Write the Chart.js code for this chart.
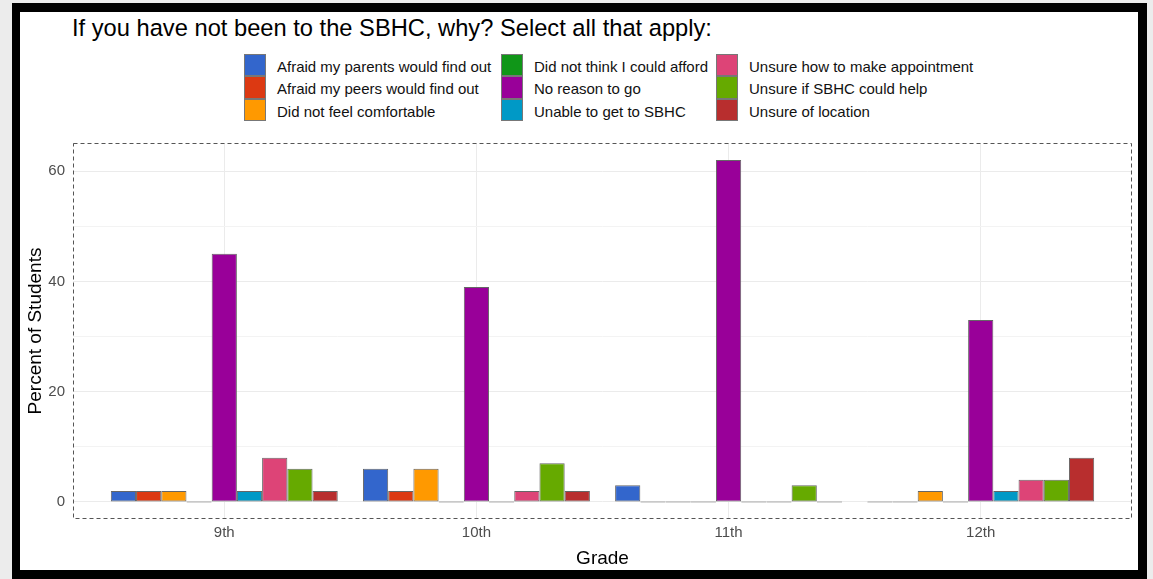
<!DOCTYPE html>
<html>
<head>
<meta charset="utf-8">
<script src="https://cdn.jsdelivr.net/npm/chart.js@4.4.0/dist/chart.umd.min.js"></script>
<style>
  html, body { margin:0; padding:0; width:1153px; height:579px; overflow:hidden; background:#ececec;
    font-family:"Liberation Sans", Arial, sans-serif; }
  #frame { position:absolute; left:12px; top:3px; width:1135px; height:600px; background:#000; }
  #inner { position:absolute; left:20px; top:12px; width:1118px; height:558px; background:#fff; }
  #title { position:absolute; left:72px; top:17px; font-size:23.7px; line-height:23px; color:#000; white-space:nowrap; }
  .lcol { position:absolute; top:54px; }
  .lrow { height:22.3px; display:flex; align-items:center; }
  .lkey { width:22px; height:22.3px; box-sizing:border-box; border:1px solid #777; flex:none; }
  .ltxt { font-size:15px; line-height:15px; color:#111; white-space:nowrap; margin-left:11px; position:relative; top:1.5px; }
  canvas { position:absolute; left:0; top:0; }
</style>
</head>
<body>
<div id="frame"></div>
<div id="inner"></div>
<div id="title">If you have not been to the SBHC, why? Select all that apply:</div>
<div id="legend"></div>
<canvas id="c" width="1153" height="579"></canvas>
<script>
// ---- data ----
const categories = ['9th', '10th', '11th', '12th'];
const seriesNames = [
  'Afraid my parents would find out',
  'Afraid my peers would find out',
  'Did not feel comfortable',
  'Did not think I could afford',
  'No reason to go',
  'Unable to get to SBHC',
  'Unsure how to make appointment',
  'Unsure if SBHC could help',
  'Unsure of location'
];
const seriesColors = ['#3366CC', '#DC3912', '#FF9900', '#109618', '#990099', '#0099C6', '#DD4477', '#66AA00', '#B82E2E'];
const afraidParents   = [2, 6, 3, 0];
const afraidPeers     = [2, 2, 0, 0];
const notComfortable  = [2, 6, 0, 2];
const couldNotAfford  = [0, 0, 0, 0];
const noReason        = [45, 39, 62, 33];
const unableToGet     = [2, 0, 0, 2];
const unsureHow       = [8, 2, 0, 4];
const unsureHelp      = [6, 7, 3, 4];
const unsureLocation  = [2, 2, 0, 8];
const yTickValues = [0, 10, 20, 30, 40, 50, 60];
const yAxisTitle = 'Percent of Students';
const xAxisTitle = 'Grade';

const seriesValues = [afraidParents, afraidPeers, notComfortable, couldNotAfford, noReason,
  unableToGet, unsureHow, unsureHelp, unsureLocation];

// ---- legend (3 columns, filled column-first) ----
const legendCols = [244, 501, 716];
const legendEl = document.getElementById('legend');
for (let c = 0; c < 3; c++) {
  const col = document.createElement('div');
  col.className = 'lcol';
  col.style.left = legendCols[c] + 'px';
  for (let r = 0; r < 3; r++) {
    const i = c * 3 + r;
    const row = document.createElement('div');
    row.className = 'lrow';
    const key = document.createElement('div');
    key.className = 'lkey';
    key.style.background = seriesColors[i];
    const txt = document.createElement('span');
    txt.className = 'ltxt';
    txt.textContent = seriesNames[i];
    row.appendChild(key); row.appendChild(txt);
    col.appendChild(row);
  }
  legendEl.appendChild(col);
}

// ---- chart ----
const FAMILY = '"Liberation Sans", Arial, sans-serif';
Chart.defaults.font.family = FAMILY;

const panelBorder = {
  id: 'panelBorder',
  afterDraw(chart) {
    const { ctx, chartArea: a } = chart;
    ctx.save();
    ctx.strokeStyle = '#555';
    ctx.lineWidth = 1;
    ctx.setLineDash([4, 3]);
    ctx.strokeRect(Math.round(a.left) + 0.5, Math.round(a.top) + 0.5,
      Math.round(a.right - a.left) - 1, Math.round(a.bottom - a.top) - 1);
    ctx.restore();
  }
};

new Chart(document.getElementById('c'), {
  type: 'bar',
  data: {
    datasets: seriesNames.map((name, s) => ({
      label: name,
      data: seriesValues[s].map((v, i) => ({ x: i + 1, y: v })),
      backgroundColor: seriesColors[s],
      borderColor: '#666',
      borderWidth: 1,
      borderSkipped: false,
      minBarLength: 1,
      categoryPercentage: 0.9,
      barPercentage: 1.0
    }))
  },
  options: {
    responsive: false,
    animation: false,
    layout: { padding: { left: 20, right: 21, top: 143, bottom: 9 } },
    plugins: { legend: { display: false }, tooltip: { enabled: false }, title: { display: false } },
    scales: {
      x: {
        type: 'linear', min: 0.4, max: 4.6, offset: false,
        afterBuildTicks: s => { s.ticks = categories.map((c, i) => ({ value: i + 1 })); },
        afterFit: s => { s.height = 51; },
        ticks: {
          callback: v => categories[Math.round(v) - 1] || '',
          font: { size: 15, family: FAMILY }, color: '#4d4d4d', padding: 5,
          maxRotation: 0, autoSkip: false
        },
        grid: { color: '#ebebeb', lineWidth: 1, drawTicks: false, offset: false },
        border: { display: false },
        title: { display: true, text: xAxisTitle, font: { size: 19, family: FAMILY }, color: '#000',
          padding: { top: 4, bottom: 0 } }
      },
      y: {
        type: 'linear', min: -3.1, max: 65.1,
        afterBuildTicks: s => { s.ticks = yTickValues.map(v => ({ value: v })); },
        afterFit: s => { s.width = 53; },
        ticks: {
          callback: v => (v % 20 === 0 ? String(v) : ''),
          font: { size: 15, family: FAMILY }, color: '#4d4d4d', padding: 8
        },
        grid: {
          color: ctx => (ctx.tick && ctx.tick.value % 20 === 0 ? '#ebebeb' : '#f3f3f3'),
          lineWidth: 1, drawTicks: false, offset: false
        },
        border: { display: false },
        title: { display: true, text: yAxisTitle, font: { size: 19, family: FAMILY }, color: '#000',
          padding: { top: 4, bottom: 0 } }
      }
    }
  },
  plugins: [panelBorder]
});
</script>
</body>
</html>
